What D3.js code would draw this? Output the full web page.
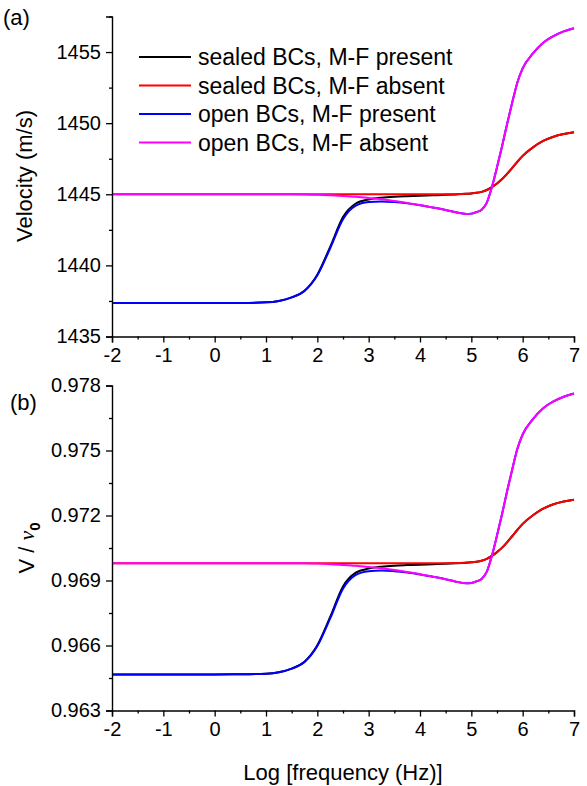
<!DOCTYPE html>
<html>
<head>
<meta charset="utf-8">
<script src="https://cdn.jsdelivr.net/npm/d3@7"></script>
<style>
  body { margin: 0; background: #fff; }
  svg { display: block; font-family: "Liberation Sans", Arial, sans-serif; }
</style>
</head>
<body>
<svg id="chart" width="587" height="786"></svg>
<script>
// Log10 of frequency (Hz), shared by every curve
const logFreq = [-2, -1, 0, 0.5, 1, 1.25, 1.5, 1.75, 2, 2.25, 2.5, 2.75, 3, 3.25, 3.5, 3.75, 4, 4.25,
                 4.5, 4.7, 4.9, 5.0, 5.1, 5.2, 5.3, 5.4, 5.5, 5.6, 5.7, 5.8, 5.9, 6.0, 6.2, 6.4, 6.6, 6.8, 7.0];

// Phase velocity (m/s)
const velSealedPresent = [1437.35, 1437.35, 1437.35, 1437.36, 1437.40, 1437.50, 1437.75, 1438.22, 1439.35, 1441.30,
                          1443.40, 1444.35, 1444.63, 1444.76, 1444.83, 1444.87, 1444.90, 1444.93,
                          1444.96, 1444.99, 1445.03, 1445.06, 1445.10, 1445.17, 1445.30, 1445.50, 1445.76, 1446.07,
                          1446.45, 1446.87, 1447.30, 1447.70, 1448.30, 1448.75, 1449.05, 1449.24, 1449.36];
const velSealedAbsent  = [1445.00, 1445.00, 1445.00, 1445.00, 1445.00, 1445.00, 1445.00, 1445.00, 1445.00, 1445.00,
                          1445.00, 1445.00, 1445.00, 1445.00, 1445.00, 1445.00, 1445.00, 1445.00,
                          1445.00, 1445.01, 1445.04, 1445.06, 1445.10, 1445.17, 1445.30, 1445.50, 1445.76, 1446.07,
                          1446.45, 1446.87, 1447.30, 1447.70, 1448.30, 1448.75, 1449.05, 1449.24, 1449.36];
const velOpenPresent   = [1437.35, 1437.35, 1437.35, 1437.36, 1437.40, 1437.50, 1437.75, 1438.20, 1439.30, 1441.20,
                          1443.25, 1444.20, 1444.45, 1444.50, 1444.45, 1444.36, 1444.23, 1444.07,
                          1443.90, 1443.73, 1443.62, 1443.64, 1443.75, 1443.92, 1444.40, 1445.50, 1446.90, 1448.40,
                          1450.00, 1451.50, 1452.90, 1453.85, 1454.90, 1455.65, 1456.12, 1456.45, 1456.67];
const velOpenAbsent    = [1445.00, 1445.00, 1445.00, 1445.00, 1445.00, 1445.00, 1445.00, 1444.99, 1444.97, 1444.93,
                          1444.88, 1444.82, 1444.74, 1444.65, 1444.53, 1444.39, 1444.24, 1444.07,
                          1443.90, 1443.73, 1443.62, 1443.64, 1443.75, 1443.92, 1444.40, 1445.50, 1446.90, 1448.40,
                          1450.00, 1451.50, 1452.90, 1453.85, 1454.90, 1455.65, 1456.12, 1456.45, 1456.67];

// Normalised velocity V / v0
const normSealedPresent = [0.964664, 0.964664, 0.964664, 0.964671, 0.964698, 0.964765, 0.964933, 0.965248, 0.966007, 0.967315,
                           0.968725, 0.969362, 0.969550, 0.969638, 0.969685, 0.969711, 0.969732, 0.969752,
                           0.969772, 0.969792, 0.969819, 0.969839, 0.969866, 0.969913, 0.970000, 0.970134, 0.970309, 0.970517,
                           0.970772, 0.971054, 0.971342, 0.971611, 0.972013, 0.972315, 0.972517, 0.972644, 0.972725];
const normSealedAbsent  = [0.969799, 0.969799, 0.969799, 0.969799, 0.969799, 0.969799, 0.969799, 0.969799, 0.969799, 0.969799,
                           0.969799, 0.969799, 0.969799, 0.969799, 0.969799, 0.969799, 0.969799, 0.969799,
                           0.969799, 0.969805, 0.969826, 0.969839, 0.969866, 0.969913, 0.970000, 0.970134, 0.970309, 0.970517,
                           0.970772, 0.971054, 0.971342, 0.971611, 0.972013, 0.972315, 0.972517, 0.972644, 0.972725];
const normOpenPresent   = [0.964664, 0.964664, 0.964664, 0.964671, 0.964698, 0.964765, 0.964933, 0.965235, 0.965973, 0.967248,
                           0.968624, 0.969262, 0.969430, 0.969463, 0.969430, 0.969369, 0.969282, 0.969174,
                           0.969060, 0.968946, 0.968872, 0.968886, 0.968960, 0.969074, 0.969396, 0.970134, 0.971074, 0.972081,
                           0.973154, 0.974161, 0.975101, 0.975738, 0.976443, 0.976946, 0.977262, 0.977483, 0.977631];
const normOpenAbsent    = [0.969799, 0.969799, 0.969799, 0.969799, 0.969799, 0.969799, 0.969799, 0.969792, 0.969779, 0.969752,
                           0.969718, 0.969678, 0.969624, 0.969564, 0.969483, 0.969389, 0.969289, 0.969174,
                           0.969060, 0.968946, 0.968872, 0.968886, 0.968960, 0.969074, 0.969396, 0.970134, 0.971074, 0.972081,
                           0.973154, 0.974161, 0.975101, 0.975738, 0.976443, 0.976946, 0.977262, 0.977483, 0.977631];

const seriesNames = ["sealed BCs, M-F present", "sealed BCs, M-F absent", "open BCs, M-F present", "open BCs, M-F absent"];
const seriesColors = ["#000000", "#ff0000", "#0000ff", "#ff00ff"];

const xTicks = [-2, -1, 0, 1, 2, 3, 4, 5, 6, 7];
const velTicks = [1435, 1440, 1445, 1450, 1455];
const normTicks = [0.963, 0.966, 0.969, 0.972, 0.975, 0.978];

const svg = d3.select("#chart");
const x = d3.scaleLinear().domain([-2, 7]).range([112, 574]);
const xMinor = d3.range(-1.5, 7, 1);

const panels = [
  {
    label: "(a)", labelPos: [3, 25],
    series: [velSealedPresent, velSealedAbsent, velOpenPresent, velOpenAbsent],
    y: d3.scaleLinear().domain([1435, 1457.5]).range([336.5, 16.5]),
    ticks: velTicks, minor: d3.range(1437.5, 1458, 5), fmt: d => String(d),
    legend: true
  },
  {
    label: "(b)", labelPos: [10, 410],
    series: [normSealedPresent, normSealedAbsent, normOpenPresent, normOpenAbsent],
    y: d3.scaleLinear().domain([0.963, 0.978]).range([710.5, 385.5]),
    ticks: normTicks, minor: d3.range(0.9645, 0.978, 0.003), fmt: d3.format(".3f"),
    legend: false
  }
];

panels.forEach(p => {
  const g = svg.append("g");
  const y = p.y;
  const baseY = y.range()[0];

  // curves, drawn in legend order so the open-boundary lines sit on top
  const line = d3.line().x(d => x(d[0])).y(d => y(d[1])).curve(d3.curveMonotoneX);
  p.series.forEach((vals, i) => {
    g.append("path")
      .datum(logFreq.map((f, k) => [f, vals[k]]))
      .attr("d", line)
      .attr("fill", "none")
      .attr("stroke", seriesColors[i])
      .attr("stroke-width", 2);
  });

  // x axis with plain hyphen minus signs
  const gx = g.append("g").attr("transform", `translate(0,${baseY})`);
  gx.call(d3.axisBottom(x).tickValues(xTicks).tickSize(6).tickPadding(5).tickFormat(d => String(d)));
  gx.append("g").call(d3.axisBottom(x).tickValues(xMinor).tickSize(3).tickFormat(""))
    .select(".domain").remove();

  // y axis
  const gy = g.append("g").attr("transform", `translate(${x.range()[0]},0)`);
  gy.call(d3.axisLeft(y).tickValues(p.ticks).tickSize(6).tickPadding(5).tickFormat(p.fmt));
  gy.append("g").call(d3.axisLeft(y).tickValues(p.minor).tickSize(3).tickFormat(""))
    .select(".domain").remove();

  g.selectAll(".domain").attr("stroke", "#000").attr("stroke-width", 1.4);
  g.selectAll(".tick line").attr("stroke", "#000").attr("stroke-width", 1.3);
  g.selectAll(".tick text").attr("font-size", 20).attr("fill", "#000")
    .attr("font-family", '"Liberation Sans", Arial, sans-serif');

  // panel label
  svg.append("text").attr("x", p.labelPos[0]).attr("y", p.labelPos[1])
    .attr("font-size", 22).text(p.label);

  if (p.legend) {
    const lg = svg.append("g");
    seriesNames.forEach((name, i) => {
      const cy = 57 + i * 28.5;
      lg.append("line").attr("x1", 139).attr("x2", 191).attr("y1", cy).attr("y2", cy)
        .attr("stroke", seriesColors[i]).attr("stroke-width", 2);
      lg.append("text").attr("x", 198).attr("y", cy + 8).attr("font-size", 23).text(name);
    });
  }
});

// axis titles
svg.append("text")
  .attr("transform", "translate(32,176) rotate(-90)")
  .attr("text-anchor", "middle").attr("font-size", 22)
  .text("Velocity (m/s)");

const vt = svg.append("text")
  .attr("transform", "translate(34,548) rotate(-90)")
  .attr("text-anchor", "middle").attr("font-size", 22);
vt.append("tspan").text("V / ");
vt.append("tspan").attr("font-family", '"Liberation Serif", "Times New Roman", serif')
  .attr("font-style", "italic").text("\u03BD");
vt.append("tspan").attr("font-size", 15).attr("font-weight", "bold").attr("dy", 6).text("0");

svg.append("text")
  .attr("x", 343).attr("y", 780)
  .attr("text-anchor", "middle").attr("font-size", 22)
  .text("Log [frequency (Hz)]");
</script>
</body>
</html>
